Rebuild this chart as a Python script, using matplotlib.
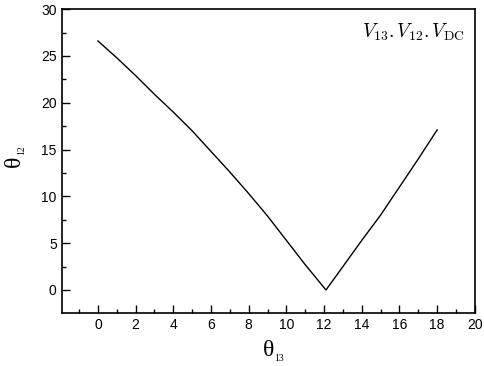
import matplotlib
matplotlib.use('Agg')
import matplotlib.pyplot as plt
from matplotlib.ticker import MultipleLocator

plt.rcParams['font.family'] = ['Liberation Sans', 'DejaVu Sans']

# theta13 vs theta12
theta13 = [0, 1, 2, 3, 4, 5, 6, 7, 8, 9, 10, 11, 12, 12.1,
           13, 14, 15, 16, 17, 18]
theta12 = [26.6, 24.8, 22.9, 20.9, 19.0, 17.0, 14.8, 12.6, 10.3, 7.9, 5.3, 2.7, 0.25, 0.0,
           2.5, 5.3, 8.0, 11.0, 14.0, 17.1]

fig = plt.figure(figsize=(4.85, 3.66), dpi=100)
ax = fig.add_axes([0.127, 0.145, 0.852, 0.83])

ax.plot(theta13, theta12, color='black', lw=1.0)

ax.set_xlim(-1.93, 20)
ax.set_ylim(-2.45, 30)
ax.xaxis.set_major_locator(MultipleLocator(2))
ax.xaxis.set_minor_locator(MultipleLocator(1))
ax.yaxis.set_major_locator(MultipleLocator(5))
ax.yaxis.set_minor_locator(MultipleLocator(2.5))
ax.tick_params(which='both', direction='in', top=False, right=False, labelsize=10, width=1)
ax.tick_params(which='major', length=6)
ax.tick_params(which='minor', length=3)
for s in ax.spines.values():
    s.set_linewidth(1.2)

# theta with a tiny subscript, like the original
ax.set_xlabel('θ', family='Liberation Serif', fontsize=17, labelpad=6)
ax.set_ylabel('θ', family='Liberation Serif', fontsize=17, labelpad=12)
ax.annotate('13', xy=(1, 0.12), xycoords=ax.xaxis.label, xytext=(0.5, 0),
            textcoords='offset points', family='Liberation Serif', fontsize=7,
            ha='left', va='center')
ax.annotate('12', xy=(0.88, 1), xycoords=ax.yaxis.label, xytext=(0, 0.5),
            textcoords='offset points', family='Liberation Serif', fontsize=7,
            ha='center', va='bottom', rotation=90)

ax.text(0.975, 0.925, r'$V_{13}.V_{12}.V_{\rm DC}$', transform=ax.transAxes,
        ha='right', va='center', fontsize=14, math_fontfamily='cm')

fig.savefig('out.png', dpi=100)
